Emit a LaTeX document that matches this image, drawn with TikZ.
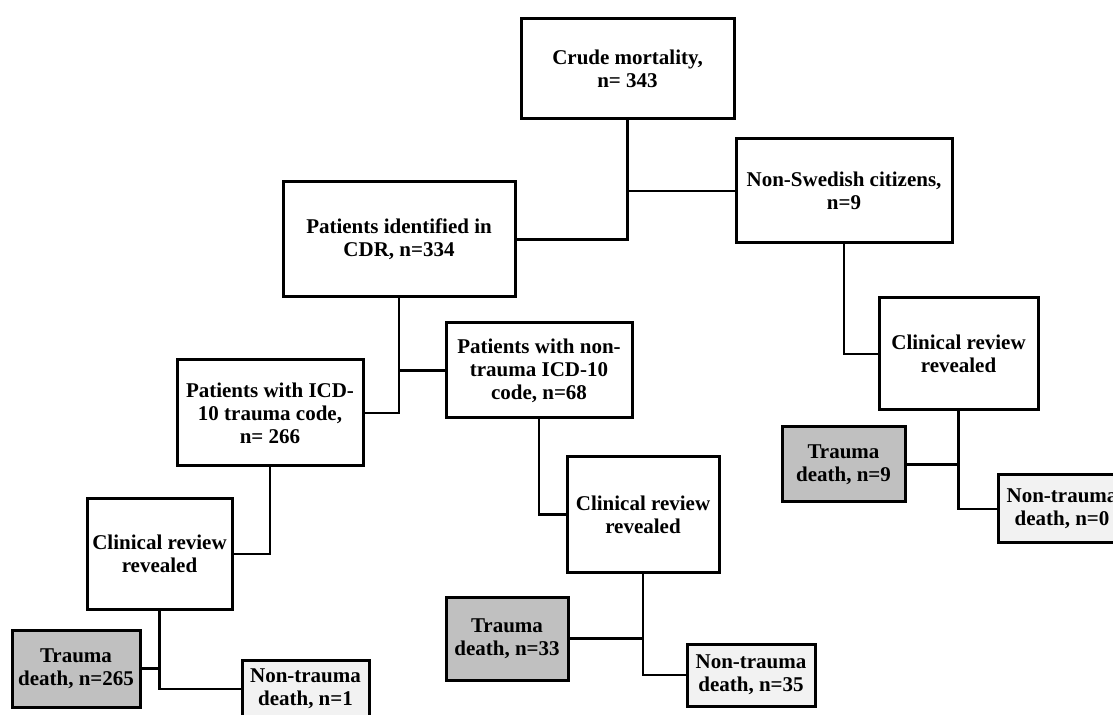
\documentclass[tikz,border=0pt]{standalone}
\usepackage{fontspec}
\setmainfont{Liberation Serif}

\definecolor{traumafill}{RGB}{192,192,192}
\definecolor{otherfill}{RGB}{242,242,242}

\tikzset{
    box/.style={draw, line width=1.5pt, fill=white, align=center, inner sep=0pt,
        font=\bfseries\fontsize{10.5}{11.5}\selectfont},
    boxsize/.style 2 args={minimum width=#1*0.5pt, minimum height=#2*0.5pt},
    trauma/.style={box, fill=traumafill},
    nontrauma/.style={box, fill=otherfill},
    link/.style={line width=1.3pt}
}

\begin{document}
\begin{tikzpicture}[x=0.5pt, y=-0.5pt]
      \clip (0, 0) rectangle (1113, 715);

      \node[box, boxsize={213}{100}] (crude) at (627.5, 69) {Crude mortality,\\n= 343};
      \node[box, boxsize={216}{104}] (nonswe) at (844, 191) {Non-Swedish citizens,\\n=9};
      \node[box, boxsize={232}{115}] (cdr) at (399, 239.5) {Patients identified in\\CDR, n=334};
      \node[box, boxsize={186}{106}] (icdtrauma) at (270, 413) {Patients with ICD-\\10 trauma code,\\n= 266};
      \node[box, boxsize={186}{95}] (icdother) at (539, 370.5) {Patients with non-\\trauma ICD-10\\code, n=68};

      % clinical reviews
      \node[box, boxsize={145}{110}] (reviewL) at (159.5, 554) {Clinical review\\revealed};
      \node[box, boxsize={152}{115}] (reviewM) at (643, 514.5) {Clinical review\\revealed};
      \node[box, boxsize={159}{112}] (reviewR) at (958.5, 354) {Clinical review\\revealed};

      % outcomes
      \node[trauma, boxsize={128}{77}] (traumaL) at (76, 668.5) {Trauma\\death, n=265};
      \node[nontrauma, boxsize={127}{58}] (otherL) at (305.5, 689) {Non-trauma\\death, n=1};
      \node[trauma, boxsize={122}{83}] (traumaM) at (507, 638.5) {Trauma\\death, n=33};
      \node[nontrauma, boxsize={128}{62}] (otherM) at (751, 675) {Non-trauma\\death, n=35};
      \node[trauma, boxsize={123}{75}] (traumaR) at (843.5, 464.5) {Trauma\\death, n=9};
      \node[nontrauma, boxsize={128}{68}] (otherR) at (1062, 509) {Non-trauma\\death, n=0};

      \draw[link] (crude.south) |- (cdr.east);
      \draw[link] (crude.south |- nonswe.west) -- (nonswe.west);
      \draw[link] (cdr.south) |- (icdtrauma.east);
      \draw[link] (cdr.south |- icdother.west) -- (icdother.west);
      \draw[link] (icdtrauma.south) |- (reviewL.east);
      \draw[link] (icdother.south) |- (reviewM.west);
      \draw[link] (nonswe.south) |- (reviewR.west);

      \draw[link] (reviewL.south) |- (otherL.west);
      \draw[link] (reviewL.south |- traumaL.east) -- (traumaL.east);
      \draw[link] (reviewM.south) |- (otherM.west);
      \draw[link] (reviewM.south |- traumaM.east) -- (traumaM.east);
      \draw[link] (reviewR.south) |- (otherR.west);
      \draw[link] (reviewR.south |- traumaR.east) -- (traumaR.east);
    \end{tikzpicture}
\end{document}
